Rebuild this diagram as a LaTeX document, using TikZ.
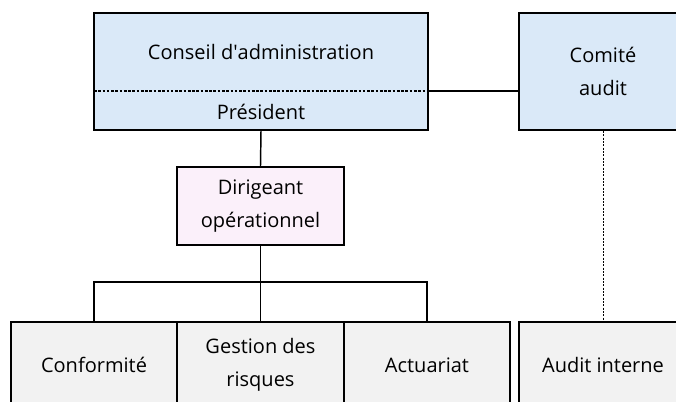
\documentclass[tikz,border=0pt]{standalone}
\usepackage{fontspec}
\setmainfont{Open Sans}[Ligatures=NoCommon]
\usepackage{tikz}
\usetikzlibrary{positioning,calc}
\definecolor{boardblue}{RGB}{218,233,248}
\definecolor{execpink}{RGB}{251,240,250}
\definecolor{unitgray}{RGB}{242,242,242}
\tikzset{
  orgbox/.style={draw, line width=1.4pt, inner sep=0pt, align=center, font=\fontsize{15}{24.75}\selectfont},
  boardbox/.style={orgbox, fill=boardblue, minimum width=250.5pt, minimum height=87.75pt},
  auditbox/.style={orgbox, fill=boardblue, minimum width=126pt, minimum height=87.75pt},
  execbox/.style={orgbox, fill=execpink, minimum width=125.25pt, minimum height=58.5pt},
  unitbox/.style={orgbox, fill=unitgray, minimum width=124.5pt, minimum height=64.5pt},
  txt/.style={inner sep=0pt, align=center, font=\fontsize{15}{24.75}\selectfont},
  link/.style={line width=1.1pt}
}

\begin{document}
\begin{tikzpicture}[x=0.75pt,y=-0.75pt]
  \useasboundingbox (0,0) rectangle (676,401);
  \clip (0,0) rectangle (676,401);
  % top level
  \node [boardbox] (conseil) at (261,71.5) {};
  \node [txt] (cad) at (261,52) {Conseil d\textquotesingle administration};
  \node [txt] (pres) at (261,112) {Président};
  \coordinate (sepL) at (94,91);
  \coordinate (sepR) at (428,91);
  \draw [dash pattern=on 2pt off 1.2pt, line width=0.8pt] (sepL) -- (sepR);
  \node [auditbox] (comite) at (603,71.5) {Comité\\audit};
  % management
  \node [execbox] (dir) at (260.5,206) {Dirigeant\\opérationnel};
  % functions
  \node [unitbox] (gest) at (260.5,365) {Gestion des\\risques};
  \node [unitbox] (conf) at (94,365) {Conformité};
  \node [unitbox] (act) at (427,365) {Actuariat};
  \node [unitbox, minimum width=126pt] (audit) at (603,365) {Audit interne};
  % links
  \draw [link] (sepR) -- (sepR -| comite.west);
  \draw [link] (conseil.south) -- (dir.north);
  \draw [link] (dir.south) -- (gest.north);
  \draw [link] (conf.north) -- ++(0,-39) -| (act.north);
  \draw [link, dash pattern=on 1.5pt off 1pt, line width=0.7pt] (comite.south) -- (audit.north);
\end{tikzpicture}
\end{document}
